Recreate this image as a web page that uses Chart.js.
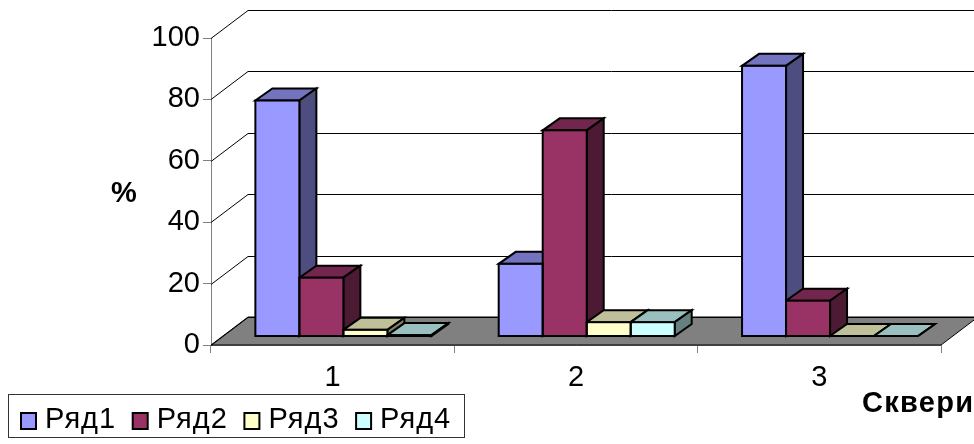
<!DOCTYPE html>
<html lang="en">
<head>
  <meta charset="UTF-8">
  <title>Сквери</title>
  <script src="https://cdn.jsdelivr.net/npm/chart.js"></script>
  <style>
    body { margin: 0; background: #fff; }
    .chart-container { width: 974px; height: 444px; overflow: hidden; }
  </style>
</head>
<body>
  <div class="chart-container"><canvas id="barChart"></canvas></div>

  <script>
    const categories = ['1', '2', '3'];
    const categoryValues = [1, 2, 3];
    const seriesNames = ['Ряд1', 'Ряд2', 'Ряд3', 'Ряд4'];
    const row1 = [76.7, 23.5, 88];
    const row2 = [19, 67, 11.5];
    const row3 = [2, 4.5, 0];
    const row4 = [0.3, 4.5, 0];
    const frontColors = ['#9999ff', '#993366', '#ffffcc', '#ccffff'];
    const topColors = ['#7373bf', '#73264d', '#bfbf99', '#99bfbf'];
    const sideColors = ['#4d4d80', '#4d1a33', '#808066', '#668080'];
    const yTitle = '%';
    const xTitle = 'Сквери';
    const fontName = '"Liberation Sans", Arial, sans-serif';

    const wallX = 37, wallY = 28;    // depth of the walls
    const barX = 17, barY = 12;      // depth of a bar

    function poly(ctx, pts, fill) {
      ctx.beginPath();
      pts.forEach((p, i) => i ? ctx.lineTo(p[0], p[1]) : ctx.moveTo(p[0], p[1]));
      ctx.closePath();
      ctx.fillStyle = fill;
      ctx.fill();
      ctx.stroke();
    }

    const box3d = {
      id: 'box3d',
      beforeDatasetsDraw(chart) {
        const ctx = chart.ctx;
        const { y } = chart.scales;
        const area = chart.chartArea;
        ctx.save();

        // floor
        ctx.strokeStyle = '#000';
        ctx.lineWidth = 1;
        ctx.beginPath();
        ctx.moveTo(area.left, area.bottom);
        ctx.lineTo(area.right, area.bottom);
        ctx.lineTo(area.right + wallX, area.bottom - wallY);
        ctx.lineTo(area.left + wallX, area.bottom - wallY);
        ctx.closePath();
        ctx.fillStyle = '#808080';
        ctx.fill();
        ctx.stroke();

        // gridlines along the left wall and the back wall
        y.ticks.forEach(t => {
          const py = Math.round(y.getPixelForValue(t.value)) + 0.5;
          ctx.beginPath();
          ctx.moveTo(area.left, py);
          ctx.lineTo(area.left + wallX, py - wallY);
          ctx.lineTo(area.right + wallX, py - wallY);
          ctx.stroke();
        });

        // tops and sides, left to right
        ctx.lineWidth = 2;
        ctx.lineJoin = 'miter';
        chart.data.datasets.forEach((ds, i) => {
          chart.getDatasetMeta(i).data.forEach(el => {
            const L = el.x - el.width / 2, R = el.x + el.width / 2;
            const T = el.y, B = el.base;
            poly(ctx, [[L, T], [R, T], [R + barX, T - barY], [L + barX, T - barY]], topColors[i]);
            poly(ctx, [[R, T], [R + barX, T - barY], [R + barX, B - barY], [R, B]], sideColors[i]);
          });
        });
        ctx.restore();
      },
      afterDatasetsDraw(chart) {
        const ctx = chart.ctx;
        ctx.save();
        ctx.strokeStyle = '#000';
        ctx.lineWidth = 2;
        chart.data.datasets.forEach((ds, i) => {
          chart.getDatasetMeta(i).data.forEach(el => {
            ctx.strokeRect(el.x - el.width / 2, el.y, el.width, el.base - el.y);
          });
        });
        ctx.restore();
      },
      afterDraw(chart) {
        const ctx = chart.ctx;
        ctx.save();
        // legend frame and items
        ctx.strokeStyle = '#333';
        ctx.lineWidth = 1;
        ctx.strokeRect(8.5, 394.5, 456, 43);
        ctx.textBaseline = 'alphabetic';
        ctx.font = '29px ' + fontName;
        ctx.letterSpacing = '1px';
        seriesNames.forEach((name, i) => {
          const lx = 21 + i * 111.7;
          ctx.fillStyle = frontColors[i];
          ctx.strokeStyle = '#000';
          ctx.lineWidth = 2;
          ctx.fillRect(lx, 413, 15, 16);
          ctx.strokeRect(lx, 413, 15, 16);
          ctx.fillStyle = '#000';
          ctx.fillText(name, lx + 24, 428);
        });
        // axis titles
        ctx.font = 'bold 29px ' + fontName;
        ctx.letterSpacing = '0px';
        ctx.fillText(yTitle, 111, 202);
        ctx.letterSpacing = '1.3px';
        ctx.fillText(xTitle, 862, 412);
        ctx.restore();
      }
    };

    const rows = [row1, row2, row3, row4];

    new Chart(document.getElementById('barChart').getContext('2d'), {
      type: 'bar',
      data: {
        datasets: seriesNames.map((name, i) => ({
          label: name,
          data: rows[i].map((v, j) => ({ x: categoryValues[j], y: v })),
          backgroundColor: frontColors[i],
          borderWidth: 0,
          xAxisID: 'xBars',
          yAxisID: 'yBars',
          barThickness: 44
        }))
      },
      options: {
        responsive: true,
        maintainAspectRatio: false,
        animation: false,
        layout: { padding: { top: 38, right: 33, left: 0, bottom: 0 } },
        scales: {
          x: {
            type: 'category',
            labels: categories,
            offset: true,
            grid: { offset: true, color: '#808080', drawOnChartArea: false, tickLength: 8 },
            border: { color: '#808080' },
            ticks: { color: '#000', font: { family: fontName, size: 29 }, padding: 8, maxRotation: 0 },
            afterFit: s => { s.height = 99; }
          },
          y: {
            min: 0,
            max: 100,
            grid: { color: '#808080', drawOnChartArea: false, tickLength: 8 },
            border: { color: '#808080' },
            ticks: { stepSize: 20, color: '#000', font: { family: fontName, size: 29 }, padding: 3 },
            afterFit: s => { s.width = 211; }
          },
          // bars stand a little in front of the back wall, so they get their own hidden scales
          xBars: { type: 'linear', display: false, offset: false, min: 0.456, max: 3.456 },
          yBars: { type: 'linear', display: false, min: -2.93, max: 97.07 }
        },
        plugins: {
          tooltip: { enabled: false },
          legend: { display: false }
        }
      },
      plugins: [box3d]
    });
  </script>
</body>
</html>
